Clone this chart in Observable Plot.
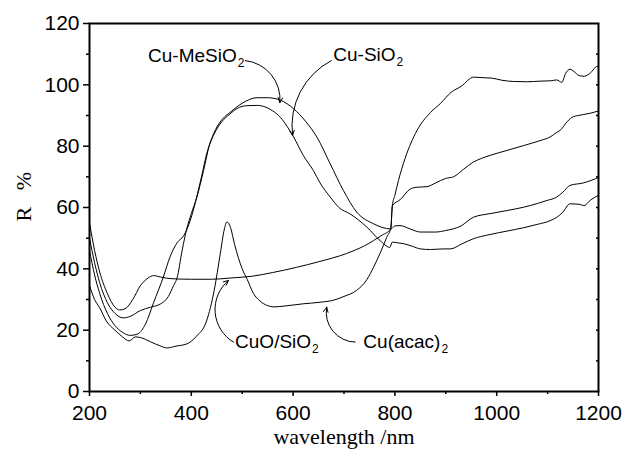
<!DOCTYPE html>
<html>
<head>
<meta charset="utf-8">
<script src="https://cdn.jsdelivr.net/npm/d3@7"></script>
<script src="https://cdn.jsdelivr.net/npm/@observablehq/plot@0.6"></script>
<style>
  html, body { margin: 0; padding: 0; background: white; }
  #chart { width: 625px; height: 457px; }
</style>
</head>
<body>
<div id="chart"></div>
<script>
// ---- Data ----
const seriesNames = ["Cu(acac)2", "CuO/SiO2", "Cu-MeSiO2", "Cu-SiO2"];

const wlAcac = [200,210,220,233,250,265,278,290,300,320,340,352,370,391,410,430,445,457,465,470,477,485,500,510,522,535,550,562,580,600,620,653,680,700,725,745,758,772,784,792,795,800,807,820,843,870,890,910,930,955,975,990,1010,1033,1060,1085,1105,1118,1128,1135,1144,1152,1162,1172,1185,1197,1200];
const rAcac  = [34.6,30,27.3,23,20,17.8,16.5,17.8,17.6,16.2,14.8,14.2,14.8,15.5,18,23,33,45,53,55.3,53.5,48,40,36.5,32,29.5,28,27.6,27.8,28.2,28.6,29.1,29.8,31,33,36.5,40.5,45.5,50.3,53.5,60.6,64,68.8,76,85,91,94,97.5,99.5,102.5,102.3,102.2,101.5,101.1,101,101.2,101.3,101.6,100.8,103.6,105.1,104.3,103,102.8,104,106,106];

const wlCuO = [200,210,220,235,250,259,270,285,300,315,326,340,360,400,440,476,520,560,607,650,705,740,758,775,792,795,810,830,843,863,880,900,915,935,954,970,987,1020,1053,1085,1105,1118,1127,1135,1148,1160,1170,1185,1200];
const rCuO  = [55,46,39,32,27.5,26.6,27,30,34.5,37,37.8,37.3,36.8,36.6,36.6,37,37.6,38.8,40.5,42.3,45,47.5,49.2,51,53,60.6,62.5,66,66.6,66.8,68,69.5,70,72.5,74.8,76,77,78.6,80.2,81.8,83,84.5,85.5,87.3,89.4,90,90.3,90.8,91.5];

const wlMe = [200,210,220,235,250,266,280,300,320,340,355,365,372,382,391,400,411,424,435,448,462,476,500,529,550,575,601,625,647,673,699,725,758,792,800,810,830,850,880,900,930,954,987,1020,1053,1080,1099,1118,1130,1144,1170,1185,1200];
const rMe  = [50,42,35.5,29,25.5,24,24.5,26.4,27.5,28.6,31,34.5,37,46,53,58,63.4,72,80,85.5,89,91,94,95.8,95.8,95,92.2,88,82.9,74.2,65.5,58.5,54.7,53,54,54.1,53,52,52,52.5,54,56.8,58,59,60.1,61.3,62.3,63.4,65,67.2,68,68.8,69.8];

const wlSi = [200,210,220,235,250,265,280,295,310,326,345,358,372,385,398,410,420,431,445,460,476,490,509,530,545,560,575,590,601,620,640,653,673,690,712,745,771,790,795,805,817,835,850,870,895,909,930,954,987,1020,1053,1080,1105,1118,1130,1144,1164,1171,1185,1200];
const rSi  = [46,38,32,25.5,21.5,19.3,18.3,18.8,22,29,37.3,43.8,48.5,50.8,55.8,63,70,78,84,88,90.5,92.3,93.2,93.3,92.8,91.5,89.4,86,83,77,72,68,63.4,60,57.9,53.6,49.2,47,48.7,48.5,48.2,47.3,46.5,46.3,46.5,46.5,48,49.8,51.2,52.3,53.4,54.5,55.7,56.8,58.5,61.2,61,60.6,62.5,64];

const xTicks = [200,400,600,800,1000,1200];
const xMinor = [300,500,700,900,1100];
const yTicks = [0,20,40,60,80,100,120];
const yMinor = [10,30,50,70,90,110];
const yRight = [10,20,30,40,50,60,70,80,90,100,110];

// annotation labels ("_" marks a subscript)
const labelText = ["Cu-MeSiO_2", "Cu-SiO_2", "CuO/SiO_2", "Cu(acac)_2"];
const labelX = [315, 679, 486, 738];
const labelY = [109.4, 109.6, 16.1, 16.1];
// arrows: start -> end
const arrowX1 = [506, 675, 483, 722];
const arrowY1 = [107.9, 107.9, 16.1, 16.1];
const arrowX2 = [574, 599, 473, 666];
const arrowY2 = [94.2, 83.5, 36.2, 27.5];
const arrowBend = [45, -35, 55, 50];

// ---- Build tables ----
const lineData = [];
[[wlAcac, rAcac], [wlCuO, rCuO], [wlMe, rMe], [wlSi, rSi]].forEach(([wl, r], i) => {
  wl.forEach((w, j) => lineData.push({series: seriesNames[i], wl: w, r: r[j]}));
});
const labels = labelText.map((t, i) => ({t, x: labelX[i], y: labelY[i]}));
const arrows = arrowX1.map((x1, i) => ({x1, y1: arrowY1[i], x2: arrowX2[i], y2: arrowY2[i], bend: arrowBend[i]}));

const sans = "'Liberation Sans', Arial, Helvetica, sans-serif";
const serif = "'Liberation Serif', 'Times New Roman', Times, serif";

const arrowMarks = arrows.map(a => Plot.arrow([a], {
  x1: "x1", y1: "y1", x2: "x2", y2: "y2", bend: a.bend,
  stroke: "black", strokeWidth: 1, headLength: 8, headAngle: 50
}));

const chart = Plot.plot({
  width: 625,
  height: 457,
  marginLeft: 89,
  marginRight: 27,
  marginTop: 23,
  marginBottom: 66,
  style: {background: "white", color: "black", fontFamily: sans, fontSize: "21px"},
  x: {domain: [200, 1200]},
  y: {domain: [0, 120]},
  marks: [
    Plot.axisX({ticks: xTicks, tickSize: 5, tickPadding: 9, tickFormat: d => String(d), fontSize: 21, fontFamily: sans, label: null, strokeWidth: 1.5}),
    Plot.axisX({ticks: xMinor, tickSize: 3, text: null, label: null, strokeWidth: 1.5}),
    Plot.axisY({ticks: yTicks, tickSize: 6, tickPadding: 4, tickFormat: d => String(d), fontSize: 21, fontFamily: sans, label: null, strokeWidth: 1.5}),
    Plot.axisY({ticks: yMinor, tickSize: 3, text: null, label: null, strokeWidth: 1.5}),
    Plot.axisY({anchor: "right", ticks: yRight, tickSize: 3, dx: -3, text: null, label: null, strokeWidth: 1.5}),
    Plot.frame({stroke: "black", strokeWidth: 2}),
    Plot.line(lineData, {x: "wl", y: "r", z: "series", stroke: "black", strokeWidth: 1, curve: "monotone-x"}),
    ...arrowMarks,
    Plot.text(labels, {x: "x", y: "y", text: "t", textAnchor: "start", lineAnchor: "middle", fontSize: 19, fontFamily: sans, fill: "black", className: "annot"}),
    Plot.text(["wavelength /nm"], {frameAnchor: "bottom", lineAnchor: "middle", dy: 45, fontSize: 22, fontFamily: serif, fill: "black"}),
    Plot.text(["R\u00a0\u00a0\u00a0%"], {frameAnchor: "left", lineAnchor: "middle", rotate: -90, dx: -66, dy: 14, fontSize: 22, fontFamily: serif, fill: "black"})
  ]
});

// turn "_2" into a real subscript tspan
d3.select(chart).selectAll(".annot text").each(function() {
  const s = this.textContent;
  const k = s.indexOf("_");
  if (k < 0) return;
  const main = s.slice(0, k), sub = s.slice(k + 1);
  const sel = d3.select(this);
  sel.text(main);
  sel.append("tspan").attr("dy", "0.38em").attr("dx", "1").attr("font-size", "12px").text(sub);
});

document.getElementById("chart").appendChild(chart);
</script>
</body>
</html>
